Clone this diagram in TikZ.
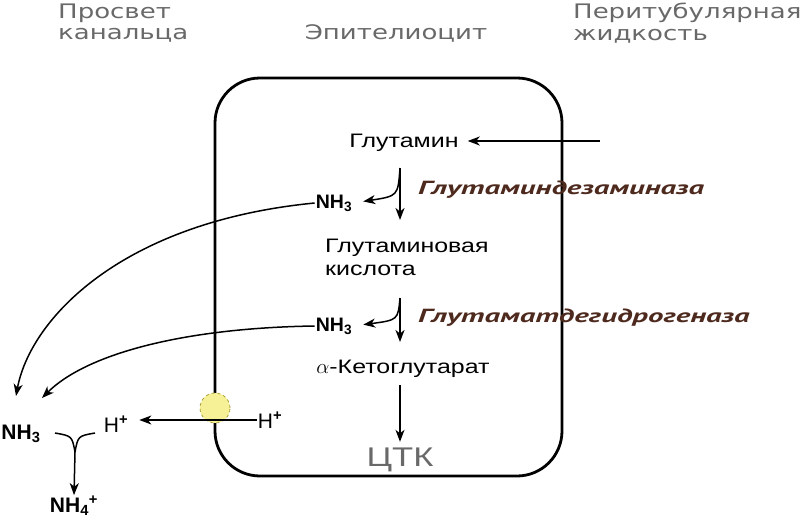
\documentclass[tikz,border=0pt]{standalone}
\usepackage{fontspec}
\setmainfont{Liberation Sans}
\newfontfamily\headfont{DejaVu Sans}[FakeStretch=1.3]
\newfontfamily\chemfont{Liberation Sans}[FakeStretch=1.28]
\newfontfamily\enzfont{PT Sans}[FakeStretch=1.62]
\usetikzlibrary{arrows.meta}
\definecolor{headgrey}{RGB}{105,105,105}
\definecolor{enzbrown}{RGB}{78,42,30}
\definecolor{pumpfill}{RGB}{246,240,150}
\definecolor{pumpline}{RGB}{170,160,60}
\tikzset{
  flow/.style={line width=1.5pt,-{Stealth[length=12pt,width=9pt,inset=3.5pt]}},
  heading/.style={font=\headfont\fontsize{20}{21.5}\selectfont,text=headgrey,align=left,inner sep=0pt},
  chem/.style={font=\chemfont\fontsize{19.5}{23}\selectfont,align=left,inner sep=1pt},
  bchem/.style={font=\fontsize{19.5}{23}\selectfont\bfseries,inner sep=1pt},
  enzyme/.style={font=\enzfont\fontsize{19}{22}\selectfont\bfseries\itshape,text=enzbrown,inner sep=0pt}
}
\begin{document}
\begin{tikzpicture}[x=1pt,y=-1pt]
	\useasboundingbox[fill=white] (0,0) rectangle (804,522);
	
	% Headings
	\node[heading,anchor=west] (lumen) at (58,23) {Просвет\\канальца};
	\node[heading] (cell) at (396,33) {Эпителиоцит};
	\node[heading,anchor=west] (peri) at (573,23) {Перитубулярная\\жидкость};
	
	% Cell
	\draw[line width=2.8pt,rounded corners=45pt] (215,78) rectangle (562,476);
	
	% Metabolites
	\node[chem] (glut) at (404,143) {Глутамин};
	\node[bchem] (nh3a) at (334,203) {NH\textsubscript{3}};
	\node[chem,anchor=west] (glua) at (324,257) {Глутаминовая\\кислота};
	\node[bchem] (nh3b) at (334,326) {NH\textsubscript{3}};
	\node[chem] (akg) at (403,369) {$\alpha$-Кетоглутарат};
	\node[chem,text=headgrey,font=\chemfont\fontsize{27}{30}\selectfont] (ctk) at (400,460) {ЦТК};
	
	% Enzymes
	\node[enzyme,anchor=west] (enza) at (418,190) {Глутаминдезаминаза};
	\node[enzyme,anchor=west] (enzb) at (418,318) {Глутаматдегидрогеназа};
	
	% Lumen side
	\node[bchem,font=\fontsize{21}{24}\selectfont\bfseries] (nh3o) at (21,434) {NH\textsubscript{3}};
	\node[bchem,font=\fontsize{21}{24}\selectfont] (hpl) at (116,424) {H\textsuperscript{\textbf{+}}};
	\node[bchem,font=\fontsize{21}{24}\selectfont] (hpr) at (270,420) {H\textsuperscript{\textbf{+}}};
	\node[bchem,font=\fontsize{21}{24}\selectfont\bfseries] (nh4) at (74,506) {NH\textsubscript{4}\textsuperscript{+}};
	
	% Pump
	\node[circle,minimum size=30pt,inner sep=0pt,fill=pumpfill,draw=pumpline,dashed,line width=0.8pt] (pump) at (215,408) {};
	
	% Glutamine uptake
	\coordinate (gin) at (600,141);
	\draw[flow,shorten >=8pt] (gin) -- (glut.east |- gin);
	
	% Reactions
	\coordinate (ra) at (400,168);
	\coordinate (rb) at (400,298);
	\draw[flow] (ra) -- ++(0,52);
	\draw[flow,shorten >=10pt] (ra) .. controls (398,196) .. (nh3a.east);
	\draw[flow] (rb) -- ++(0,44);
	\draw[flow,shorten >=10pt] (rb) .. controls (398,320) .. (nh3b.east);
	\coordinate (rc) at (400,385);
	\draw[flow,shorten >=5pt] (rc) -- (ctk.north);
	
	% Ammonia leaving the cell
	\coordinate (outa) at (16,396);
	\coordinate (outb) at (42,398);
	\draw[flow] (nh3a.west) .. controls (120,222) and (30,320) .. (outa);
	\draw[flow] (nh3b.west) .. controls (180,328) and (85,355) .. (outb);
	
	% Proton secretion
	\draw[flow,shorten >=10pt] (hpr.west) -- (hpl.east |- hpr.west);
	
	% Ammonium formation
	\coordinate (mrg) at (75,452);
	\draw[line width=1.5pt] (55,433) .. controls (72,436) .. (mrg);
	\draw[line width=1.5pt] (95,433) .. controls (78,436) .. (mrg);
	\draw[flow] (mrg) -- (nh4.north);
\end{tikzpicture}
\end{document}
